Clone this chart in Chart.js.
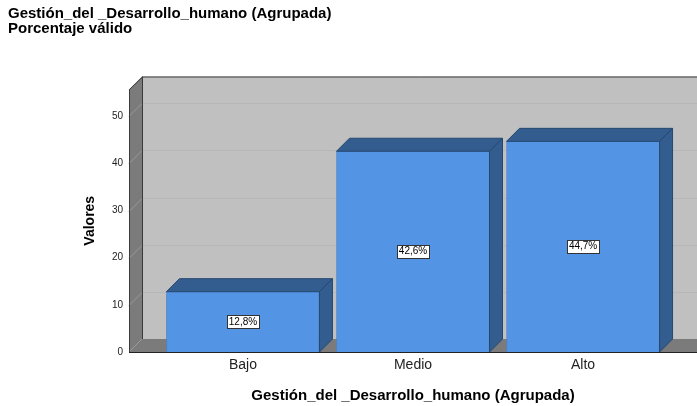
<!DOCTYPE html>
<html lang="es">
<head>
<meta charset="UTF-8">
<title>Gestión_del _Desarrollo_humano (Agrupada)</title>
<script src="https://cdn.jsdelivr.net/npm/chart.js"></script>
<style>
  html, body { margin: 0; padding: 0; background: #fff; }
  #wrap { width: 697px; height: 406px; }
</style>
</head>
<body>
<div id="wrap"><canvas id="grafico" width="697" height="406"></canvas></div>
<script>
// datos
var categorias = ["Bajo", "Medio", "Alto"];
var porcentajes = [12.8, 42.6, 44.7];
var etiquetas = ["12,8%", "42,6%", "44,7%"];
var ticksY = [0, 10, 20, 30, 40, 50];

var FUENTE = "'Liberation Sans', Arial, sans-serif";
var PROF = 13; // profundidad del efecto 3D

// paredes, suelo y rejilla en 3D
var fondo3D = {
  id: "fondo3D",
  beforeDatasetsDraw: function (chart) {
    var ctx = chart.ctx, a = chart.chartArea, y = chart.scales.y;
    var d = PROF;
    ctx.save();
    // pared del fondo
    ctx.fillStyle = "#c0c0c0";
    ctx.fillRect(a.left + d, a.top - d, a.right - a.left, a.bottom - a.top);
    // pared izquierda
    ctx.fillStyle = "#7b7b7b";
    ctx.beginPath();
    ctx.moveTo(a.left, a.top);
    ctx.lineTo(a.left + d, a.top - d);
    ctx.lineTo(a.left + d, a.bottom - d);
    ctx.lineTo(a.left, a.bottom);
    ctx.closePath();
    ctx.fill();
    // suelo
    ctx.beginPath();
    ctx.moveTo(a.left, a.bottom);
    ctx.lineTo(a.left + d, a.bottom - d);
    ctx.lineTo(a.right + d, a.bottom - d);
    ctx.lineTo(a.right, a.bottom);
    ctx.closePath();
    ctx.fill();
    // rejilla
    ctx.lineWidth = 1;
    ticksY.forEach(function (v) {
      if (v === 0) return;
      var py = Math.round(y.getPixelForValue(v)) + 0.5;
      ctx.strokeStyle = "#b7b7b7";
      ctx.beginPath();
      ctx.moveTo(a.left + d, py - d);
      ctx.lineTo(a.right + d, py - d);
      ctx.stroke();
      ctx.strokeStyle = "#9a9a9a";
      ctx.beginPath();
      ctx.moveTo(a.left, py);
      ctx.lineTo(a.left + d, py - d);
      ctx.stroke();
    });
    // bordes
    ctx.strokeStyle = "#3a3a3a";
    ctx.beginPath();
    ctx.moveTo(a.left + 0.5, a.bottom + 0.5);
    ctx.lineTo(a.left + 0.5, a.top);
    ctx.lineTo(a.left + d + 0.5, a.top - d + 0.5);
    ctx.lineTo(a.right + d, a.top - d + 0.5);
    ctx.stroke();
    ctx.beginPath();
    ctx.moveTo(a.left + d + 0.5, a.top - d);
    ctx.lineTo(a.left + d + 0.5, a.bottom - d);
    ctx.stroke();
    ctx.strokeStyle = "#222";
    ctx.beginPath();
    ctx.moveTo(a.left, a.bottom + 0.5);
    ctx.lineTo(a.right, a.bottom + 0.5);
    ctx.stroke();
    ctx.restore();
  },
  afterDatasetsDraw: function (chart) {
    var ctx = chart.ctx, d = PROF;
    var meta = chart.getDatasetMeta(0);
    ctx.save();
    meta.data.forEach(function (bar, i) {
      var x0 = bar.x - bar.width / 2, x1 = bar.x + bar.width / 2;
      var top = bar.y, base = bar.base;
      ctx.fillStyle = "#335c8f";
      ctx.strokeStyle = "#26486f";
      ctx.lineWidth = 1;
      // cara superior
      ctx.beginPath();
      ctx.moveTo(x0, top);
      ctx.lineTo(x0 + d, top - d);
      ctx.lineTo(x1 + d, top - d);
      ctx.lineTo(x1, top);
      ctx.closePath();
      ctx.fill();
      ctx.stroke();
      // cara lateral
      ctx.beginPath();
      ctx.moveTo(x1, top);
      ctx.lineTo(x1 + d, top - d);
      ctx.lineTo(x1 + d, base - d);
      ctx.lineTo(x1, base);
      ctx.closePath();
      ctx.fill();
      ctx.stroke();
      // etiqueta
      var cy = (top + base) / 2;
      ctx.font = "10px " + FUENTE;
      var w = ctx.measureText(etiquetas[i]).width;
      ctx.fillStyle = "#fff";
      ctx.fillRect(Math.round(bar.x - w / 2 - 2) + 0.5, Math.round(cy - 7) + 0.5, Math.round(w + 4), 13);
      ctx.strokeStyle = "#333";
      ctx.strokeRect(Math.round(bar.x - w / 2 - 2) + 0.5, Math.round(cy - 7) + 0.5, Math.round(w + 4), 13);
      ctx.fillStyle = "#000";
      ctx.textAlign = "center";
      ctx.textBaseline = "middle";
      ctx.fillText(etiquetas[i], bar.x, cy);
    });
    ctx.restore();
  }
};

var puntos = porcentajes.map(function (v, i) { return { x: i, y: v }; });

new Chart(document.getElementById("grafico"), {
  type: "bar",
  data: {
    datasets: [{
      label: "Porcentaje válido",
      data: puntos,
      backgroundColor: "#5494e4",
      borderColor: "#4a84cc",
      borderWidth: 1,
      barThickness: 153
    }]
  },
  plugins: [fondo3D],
  options: {
    responsive: false,
    animation: false,
    layout: { padding: { left: 8, right: 0, top: 0, bottom: 0 } },
    plugins: {
      legend: { display: false },
      tooltip: { enabled: false },
      title: {
        display: true,
        text: ["Gestión_del _Desarrollo_humano (Agrupada)", "Porcentaje válido"],
        align: "start",
        color: "#000",
        font: { family: FUENTE, size: 15, weight: "bold", lineHeight: 0.95 },
        padding: { top: 7, bottom: 54 }
      }
    },
    scales: {
      x: {
        type: "linear",
        offset: false,
        min: -0.67,
        max: 2.67,
        afterFit: function (s) { s.height = 54; },
        afterBuildTicks: function (s) {
          s.ticks = categorias.map(function (c, i) { return { value: i }; });
        },
        ticks: {
          callback: function (v) { return categorias[v]; },
          color: "#222",
          font: { family: FUENTE, size: 14 },
          padding: 5,
          maxRotation: 0,
          autoSkip: false
        },
        grid: { display: false, drawTicks: false, offset: false },
        border: { display: false },
        title: {
          display: true,
          text: "Gestión_del _Desarrollo_humano (Agrupada)",
          color: "#000",
          font: { family: FUENTE, size: 15, weight: "bold" },
          padding: { top: 0, bottom: 1 }
        }
      },
      y: {
        min: 0,
        max: 55.7,
        afterFit: function (s) { s.width = 121; },
        afterBuildTicks: function (s) {
          s.ticks = ticksY.map(function (v) { return { value: v }; });
        },
        ticks: {
          color: "#222",
          font: { family: FUENTE, size: 10 },
          padding: 6
        },
        grid: { display: false, drawTicks: false },
        border: { display: false },
        title: {
          display: true,
          text: "Valores",
          color: "#000",
          font: { family: FUENTE, size: 14, weight: "bold" },
          padding: { top: 74, bottom: 0 }
        }
      }
    }
  }
});
</script>
</body>
</html>
